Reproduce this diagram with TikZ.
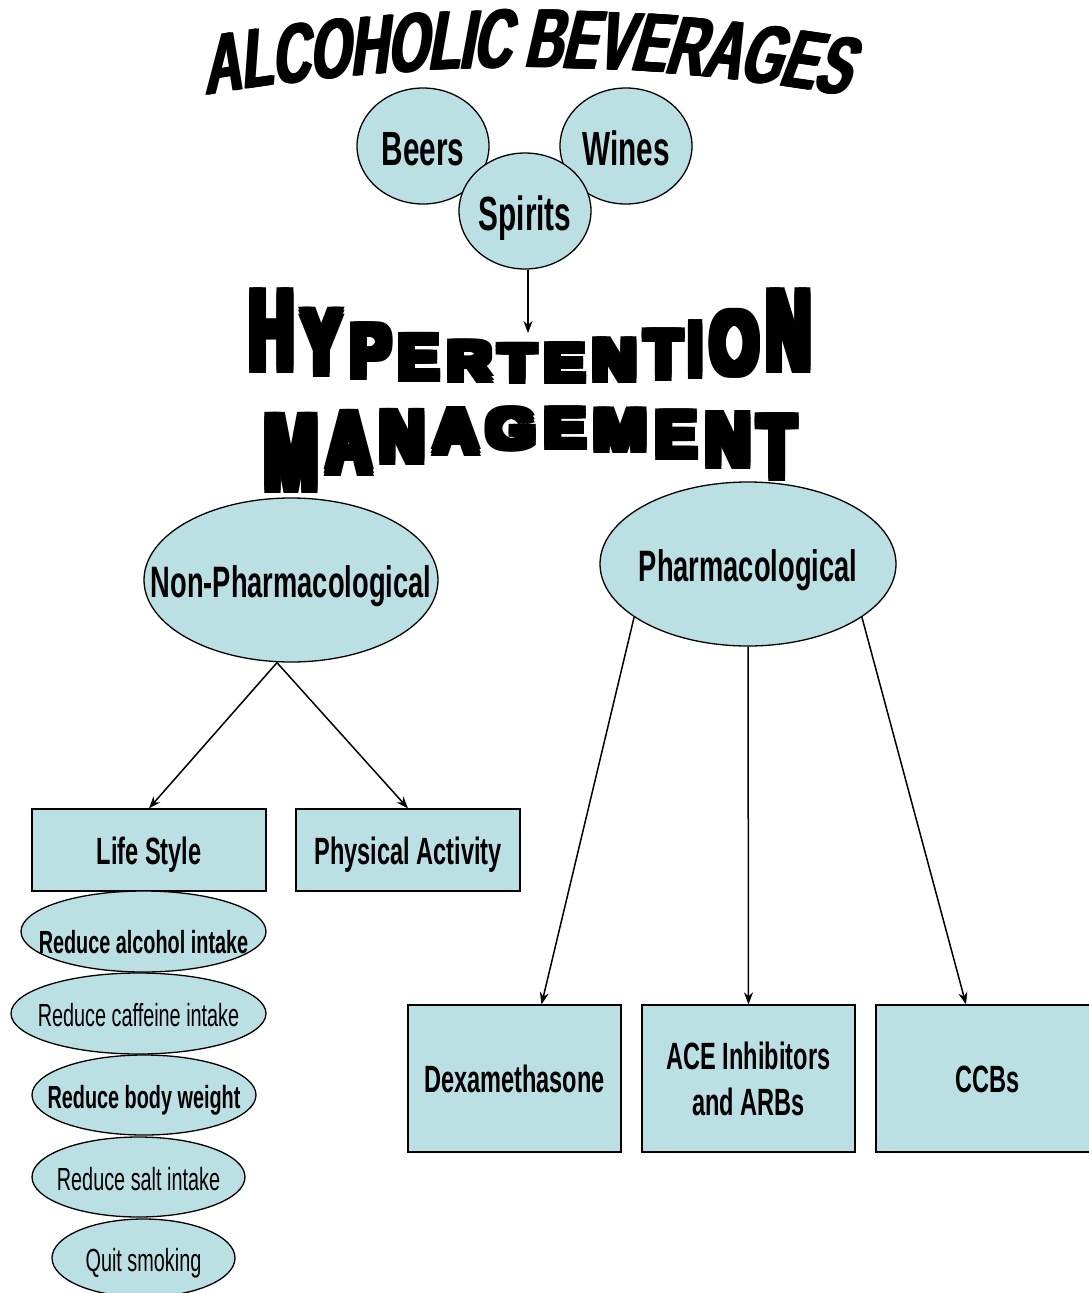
\documentclass[tikz,border=0pt]{standalone}
\usepackage{fontspec}
\setmainfont{Liberation Sans}[FakeStretch=0.62]
\newfontfamily\heavyfont{Liberation Sans Bold}
\newfontfamily\slantsans{Liberation Sans}[FakeStretch=0.62, FakeSlant=0.22]
\usetikzlibrary{arrows.meta,positioning,shapes.geometric}
\definecolor{paleteal}{HTML}{BBE0E3}

\begin{document}
\begin{tikzpicture}[
  x=1pt, y=-1pt,
  bubble/.style={ellipse, draw, fill=paleteal, line width=1.3pt, inner sep=0pt},
  panel/.style={rectangle, draw, fill=paleteal, line width=1.3pt, inner sep=0pt, align=center},
  titletxt/.style={font=\slantsans\fontsize{84}{84}\selectfont\bfseries, inner sep=0pt},
  drinktxt/.style={font=\fontsize{48}{56}\selectfont\bfseries, text height=38pt, text depth=0pt},
  headtxt/.style={font=\fontsize{44}{52}\selectfont\bfseries, text height=35pt, text depth=0pt},
  boxtxt/.style={font=\fontsize{38}{46}\selectfont\bfseries},
  onerow/.style={text height=28pt, text depth=0pt},
  advicetxt/.style={font=\fontsize{32}{38}\selectfont, text height=26pt, text depth=0pt},
  strongtxt/.style={font=\fontsize{32}{38}\selectfont\bfseries, text height=26pt, text depth=0pt},
  arr/.style={-{Stealth[length=12pt,width=9pt]}, line width=1.5pt}
]
\useasboundingbox (0,0) rectangle (1088,1293);

\foreach \letter/\wa/\wb [count=\idx] in {A/0/722, L/722/1333, C/1333/2055,
    O/2055/2833, H/2833/3555, O/3555/4333, L/4333/4944, I/4944/5222,
    C/5222/5944, B/6222/6944, E/6944/7611, V/7611/8278, E/8278/8945,
    R/8945/9667, A/9667/10389, G/10389/11167, E/11167/11834, S/11834/12501}{
  \pgfmathsetmacro\xc{206+\wa*0.0256+\wb*0.0256}
  \pgfmathsetmacro\vv{(\xc-526)/320}
  \pgfmathsetmacro\yb{68+28*\vv*\vv}
  \pgfmathsetmacro\tilt{-atan(56*\vv/320)}
  \foreach \dx [count=\c] in {-1.5,0,1.5}
    \node[titletxt, rotate=\tilt, anchor=base] (bev\idx-\c) at (\xc+\dx,\yb) {\letter};
}

\node[bubble, drinktxt, minimum width=132, minimum height=116] (beers) at (423,146) {\makebox[0pt]{Beers}};
\node[bubble, drinktxt, minimum width=132, minimum height=116] (wines) at (626,146) {\makebox[0pt]{Wines}};
\node[bubble, drinktxt, minimum width=132, minimum height=116] (spirits) at (525,211) {\makebox[0pt]{Spirits}};
\coordinate (hypertop) at (528,333);
\draw[arr] (spirits.south -| hypertop) -- (hypertop);

\foreach \letter/\wa/\wb [count=\idx] in {H/0/722, Y/722/1389, P/1389/2056,
    E/2056/2723, R/2723/3445, T/3445/4056, E/4056/4723, N/4723/5445,
    T/5445/6056, I/6056/6334, O/6334/7112, N/7112/7834}{
  \pgfmathsetmacro\xl{245+\wa*0.07276}
  \pgfmathsetmacro\lw{(\wb-\wa)*0.07276}
  \pgfmathsetmacro\uu{(\xl+\lw/2-530)/285}
  \pgfmathsetmacro\ytop{342-66*\uu*\uu}
  \pgfmathsetmacro\lh{384-13*\uu*\uu-\ytop}
  \pgfmathsetmacro\lwi{\lw-8}
  \pgfmathsetmacro\lhi{\lh-7}
  \foreach \dx/\dy [count=\c] in {-4/-3.5,0/-3.5,4/-3.5,-4/0,0/0,4/0,-4/3.5,0/3.5,4/3.5}
    \node[anchor=north west, inner sep=0pt] (hyp\idx-\c) at (\xl+4+\dx,\ytop+3.5+\dy)
      {\resizebox{\lwi pt}{\lhi pt}{\heavyfont\letter}};
}
\foreach \letter/\wa/\wb [count=\idx] in {M/0/833, A/833/1555, N/1555/2277,
    A/2277/2999, G/2999/3777, E/3777/4444, M/4444/5277, E/5277/5944,
    N/5944/6666, T/6666/7277}{
  \pgfmathsetmacro\xl{260+\wa*0.07421}
  \pgfmathsetmacro\lw{(\wb-\wa)*0.07421}
  \pgfmathsetmacro\uu{(\xl+\lw/2-530)/270}
  \pgfmathsetmacro\ytop{406+8*\uu*\uu}
  \pgfmathsetmacro\lh{451+45*\uu*\uu-8*\uu-\ytop}
  \pgfmathsetmacro\lwi{\lw-8}
  \pgfmathsetmacro\lhi{\lh-7}
  \foreach \dx/\dy [count=\c] in {-4/-3.5,0/-3.5,4/-3.5,-4/0,0/0,4/0,-4/3.5,0/3.5,4/3.5}
    \node[anchor=north west, inner sep=0pt] (mgt\idx-\c) at (\xl+4+\dx,\ytop+3.5+\dy)
      {\resizebox{\lwi pt}{\lhi pt}{\heavyfont\letter}};
}

\node[bubble, headtxt, minimum width=294, minimum height=164] (nonpharm) at (291,580) {\makebox[0pt]{Non-Pharmacological}};
\node[bubble, headtxt, minimum width=296, minimum height=164] (pharm) at (748,564) {\makebox[0pt]{Pharmacological}};

\node[panel, boxtxt, onerow, minimum width=234, minimum height=82] (lifestyle) at (149,850) {Life Style};
\node[panel, boxtxt, onerow, minimum width=224, minimum height=82] (physical) at (408,850) {Physical Activity};

\node[bubble, strongtxt, text height=43pt, minimum width=245, minimum height=81] (alcohol) at (143.5,931.5) {\makebox[0pt]{Reduce alcohol intake}};
\node[bubble, advicetxt, minimum width=255, minimum height=81] (caffeine) at (138.5,1013.5) {\makebox[0pt]{Reduce caffeine intake}};
\node[bubble, strongtxt, minimum width=224, minimum height=80] (weight) at (144,1095) {\makebox[0pt]{Reduce body weight}};
\node[bubble, advicetxt, minimum width=213, minimum height=80] (salt) at (138.5,1177) {\makebox[0pt]{Reduce salt intake}};
\node[bubble, advicetxt, minimum width=183, minimum height=78] (smoking) at (143.5,1258) {\makebox[0pt]{Quit smoking}};

\node[panel, boxtxt, onerow, minimum width=213, minimum height=147] (dexa) at (514.5,1078.5) {Dexamethasone};
\node[panel, boxtxt, minimum width=213, minimum height=147] (acei) at (748.5,1078.5) {ACE Inhibitors\\and ARBs};
\node[panel, boxtxt, onerow, minimum width=224, minimum height=147] (ccb) at (988,1078.5) {CCBs};

\draw[arr] ([xshift=-14pt]nonpharm.south) -- (lifestyle.north);
\draw[arr] ([xshift=-14pt]nonpharm.south) -- (physical.north);
\draw[arr] (pharm.205) -- ([xshift=27pt]dexa.north);
\draw[arr] (pharm.south) -- (acei.north);
\draw[arr] (pharm.335) -- ([xshift=-22pt]ccb.north);
\end{tikzpicture}
\end{document}
